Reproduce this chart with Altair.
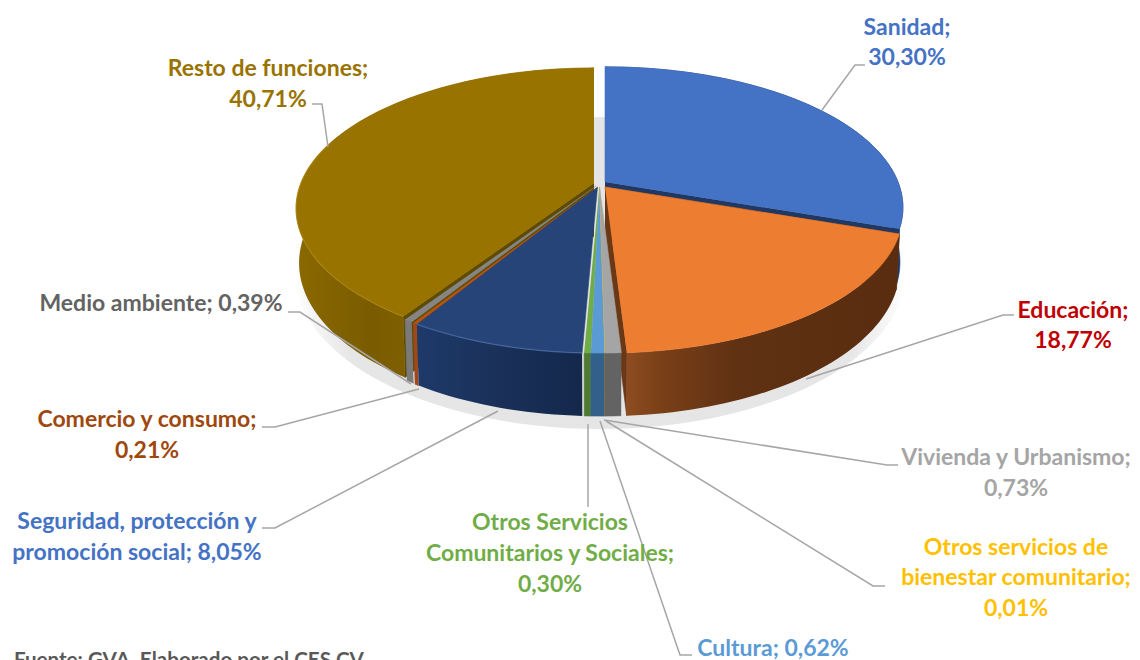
import math
import altair as alt
import pandas as pd

# ---- chart values ----
categories = ["Sanidad", "Educación", "Vivienda y Urbanismo", "Otros servicios de bienestar comunitario",
              "Cultura", "Otros Servicios Comunitarios y Sociales", "Seguridad, protección y promoción social",
              "Comercio y consumo", "Medio ambiente", "Resto de funciones"]
values = [30.30, 18.77, 0.73, 0.01, 0.62, 0.30, 8.05, 0.21, 0.39, 40.71]
top_colors = ["#4472C4", "#ED7D31", "#A5A5A5", "#FFC000", "#5B9BD5", "#70AD47", "#264478", "#B5540F", "#858585", "#997300"]
side_colors = ["#1F3864", "#5F3012", "#636363", "#997300", "#33608A", "#4F7A32", "#172C52", "#A0481A", "#7A7A7A", "#806000"]
wall_colors = ["#1F3864", "#6B3816", "#636363", "#997300", "#33608A", "#4F7A32", "#172C52", "#A0481A", "#6A6A6A", "#5E4A00"]
explode_x = [605, 605, 599.5, 599.5, 599.5, 599.5, 597.5, 597.5, 596, 594]
explode_y = [182, 187, 187, 187, 187, 187, 187, 187, 186, 183]

label_text = ["Sanidad;", "30,30%", "Educación;", "18,77%", "Vivienda y Urbanismo;", "0,73%",
              "Otros servicios de", "bienestar comunitario;", "0,01%", "Cultura; 0,62%",
              "Otros Servicios", "Comunitarios y Sociales;", "0,30%", "Seguridad, protección y",
              "promoción social; 8,05%", "Comercio y consumo;", "0,21%", "Medio ambiente; 0,39%",
              "Resto de funciones;", "40,71%"]
label_color = ["#4472C4", "#4472C4", "#C00000", "#C00000", "#A5A5A5", "#A5A5A5",
               "#FFC000", "#FFC000", "#FFC000", "#5B9BD5",
               "#70AD47", "#70AD47", "#70AD47", "#4472C4", "#4472C4",
               "#9E480E", "#9E480E", "#636363", "#997300", "#997300"]
label_x = [907, 907, 1073, 1073, 1016, 1016, 1016, 1016, 1016, 773, 550, 550, 550, 137, 137, 147, 147, 161, 268, 268]
label_y = [28, 58, 311, 341, 458, 489, 548, 578, 609, 649, 523, 554, 585, 522, 553, 420, 451, 304, 69, 100]

source_text = ["Fuente: GVA. Elaborado por el CES CV"]

leaders = [
    [(865, 65), (855, 65), (822, 110)],
    [(1014, 315), (1003, 315), (806, 379)],
    [(898, 465), (887, 465), (604, 420)],
    [(885, 586), (873, 586), (606, 421)],
    [(692, 655), (680, 655), (600, 421)],
    [(588, 507), (588, 424)],
    [(262, 528), (275, 528), (498, 411)],
    [(262, 427), (275, 427), (419, 389)],
    [(288, 312), (300, 312), (411, 384)],
    [(312, 104), (322, 104), (328, 147)],
]

# ---- geometry: perspective pie derived from the values ----
R, K, PERSP, DEPTH, SHRINK = 293, 136, 0.181, 53, 0.99
total = sum(values)
cum = [0]
for v in values:
    cum.append(cum[-1] + v / total)


def pt(i, t, low=False):
    a = 2 * math.pi * t
    s = 1 / (1 - PERSP * (-math.cos(a)))
    f = SHRINK if low else 1
    return (explode_x[i] + R * math.sin(a) * s * f,
            explode_y[i] + K * (-math.cos(a)) * s * f + (DEPTH * s if low else 0))


def apex(i, low=False):
    return (explode_x[i], explode_y[i] + (DEPTH if low else 0))


def arc(i, t0, t1, low=False):
    n = max(2, int((t1 - t0) * 240))
    return [pt(i, t0 + (t1 - t0) * j / n, low) for j in range(n + 1)]


X = alt.Scale(domain=[8, 1132], nice=False, zero=False)
Y = alt.Scale(domain=[8, 660], nice=False, zero=False, reverse=True)


def shape(points, fill, stroke=None, sw=0.6, opacity=1):
    df = pd.DataFrame({"x": [p[0] for p in points], "y": [p[1] for p in points], "i": range(len(points))})
    return alt.Chart(df).mark_line(fill=fill, stroke=stroke or (fill if isinstance(fill, str) else "#00000000"),
                                   strokeWidth=sw, opacity=opacity).encode(
        x=alt.X("x:Q", scale=X, axis=None),
        y=alt.Y("y:Q", scale=Y, axis=None),
        order=alt.Order("i:Q"))


def line(points, color, sw=1.5, opacity=1):
    df = pd.DataFrame({"x": [p[0] for p in points], "y": [p[1] for p in points], "i": range(len(points))})
    return alt.Chart(df).mark_line(color=color, strokeWidth=sw, opacity=opacity).encode(
        x=alt.X("x:Q", scale=X, axis=None),
        y=alt.Y("y:Q", scale=Y, axis=None),
        order=alt.Order("i:Q"))


def grad(stops):
    return alt.LinearGradient(gradient="linear", x1=0, x2=1, y1=0, y2=0,
                              stops=[alt.GradientStop(offset=o, color=c) for o, c in stops])


side_fill = {
    1: grad([(0, "#8E4C20"), (0.12, "#7A4018"), (0.4, "#603113"), (1, "#5A2D10")]),
    9: grad([(0, "#8A6900"), (0.25, "#7A5C00"), (0.75, "#8F6C00"), (1, "#7C5E00")]),
    6: grad([(0, "#1E3A6A"), (0.5, "#1A3058"), (1, "#14284C")]),
}


def side(i):
    pts = arc(i, cum[i], cum[i + 1]) + arc(i, cum[i], cum[i + 1], True)[::-1]
    return shape(pts, side_fill.get(i, side_colors[i]))


def top(i):
    return shape([apex(i)] + arc(i, cum[i], cum[i + 1]), top_colors[i])


def wall(i, t):
    return shape([apex(i), pt(i, t), pt(i, t, True), apex(i, True)], wall_colors[i])


# soft shadow behind and under the pie
shadow_pts = [(600 + 305 * math.sin(a / 60 * math.pi), 273 + 156 * math.cos(a / 60 * math.pi)) for a in range(120)]
shadow_fill = alt.RadialGradient(gradient="radial", x1=0.5, y1=0.5, x2=0.5, y2=0.5, r1=0, r2=0.5,
                                 stops=[alt.GradientStop(offset=0, color="#E4E4E4"),
                                        alt.GradientStop(offset=0.86, color="#E6E6E6"),
                                        alt.GradientStop(offset=0.96, color="#F7F7F7"),
                                        alt.GradientStop(offset=1, color="#FFFFFF")])
layers = [shape(shadow_pts, shadow_fill, "#00000000", 0)]

# Sanidad
layers += [wall(0, cum[1]), side(0), top(0)]
# Resto de funciones
layers += [wall(9, cum[9]), side(9), top(9), line(arc(9, cum[9], 0.80), "#B08C10", 1.2, 0.6)]
# Educación: inner walls sit behind the small central slices
layers += [wall(1, cum[1]), wall(1, cum[2]), side(1), top(1)]
# Medio ambiente, comercio, seguridad
for i in (8, 7, 6):
    layers += [side(i), top(i)]
layers.append(line(arc(6, cum[6], cum[7]), "#4A6FA8", 1.3, 0.7))
# Small central slices
for i in (5, 4, 3, 2):
    layers += [side(i), top(i)]

# Leader lines
for pts in leaders:
    layers.append(line(pts, "#A6A6A6", 1.5))

labels = pd.DataFrame({"t": label_text, "c": label_color, "x": label_x, "y": label_y})
layers.append(alt.Chart(labels).mark_text(font="Lato", fontWeight="bold", fontSize=23, align="center", baseline="middle").encode(
    x=alt.X("x:Q", scale=X, axis=None), y=alt.Y("y:Q", scale=Y, axis=None),
    text="t:N", color=alt.Color("c:N", scale=None)))

source = pd.DataFrame({"t": source_text, "x": [14], "y": [661]})
layers.append(alt.Chart(source).mark_text(font="Lato", fontWeight="bold", fontSize=20.6, align="left", baseline="middle", color="#595959").encode(
    x=alt.X("x:Q", scale=X, axis=None), y=alt.Y("y:Q", scale=Y, axis=None), text="t:N"))

chart = alt.layer(*layers).properties(
    width=1124, height=652, padding=0, autosize=alt.AutoSizeParams(type="none")
).configure_view(stroke=None)

chart.save("out.html", embed_options={"renderer": "svg", "actions": False})
